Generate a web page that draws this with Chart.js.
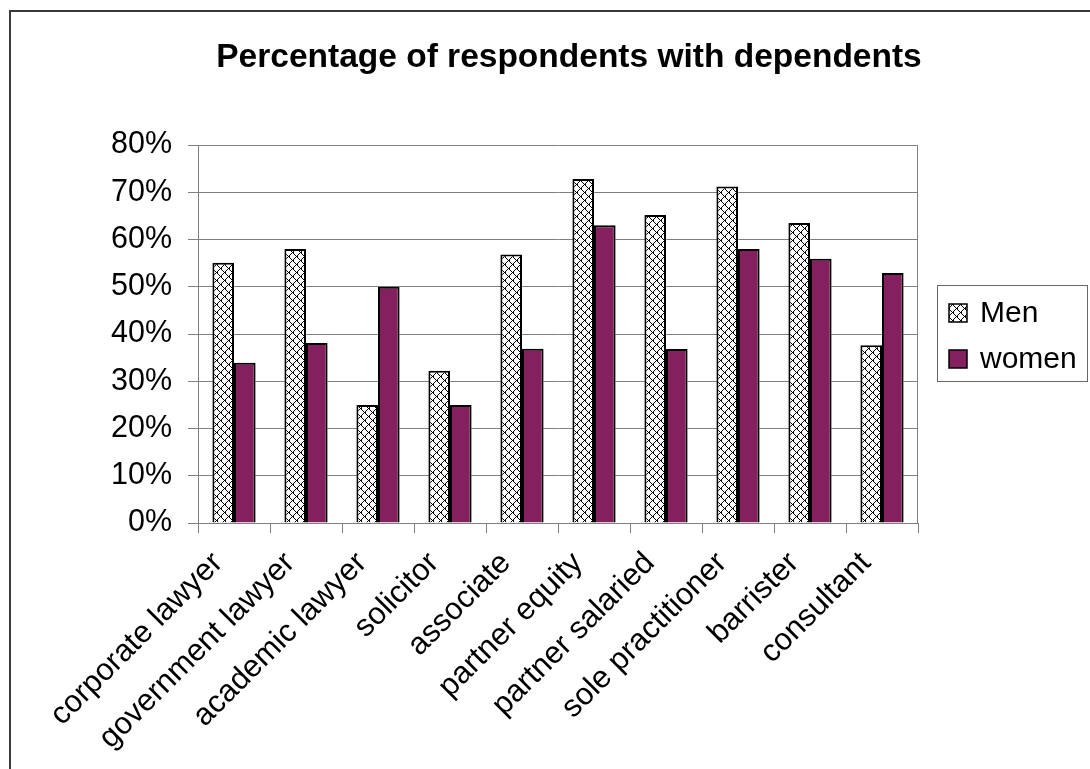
<!DOCTYPE html>
<html>
<head>
<meta charset="utf-8">
<script src="https://cdn.jsdelivr.net/npm/chart.js@4/dist/chart.umd.min.js"></script>
<style>
  html, body { margin: 0; padding: 0; background: #fff; }
  #wrap { width: 1090px; height: 769px; position: relative; }
</style>
</head>
<body>
<div id="wrap"><canvas id="chart" width="1090" height="769"></canvas></div>
<script>
// Share of respondents with dependents, by role and sex
const categories = [
  'corporate lawyer', 'government lawyer', 'academic lawyer', 'solicitor',
  'associate', 'partner equity', 'partner salaried', 'sole practitioner',
  'barrister', 'consultant'
];
const menValues   = [55.1, 58.0, 25.0, 32.2, 56.8, 72.8, 65.2, 71.2, 63.5, 37.6];
const womenValues = [33.9, 38.1, 50.0, 25.0, 36.9, 63.0, 36.8, 58.0, 55.9, 52.9];
const seriesNames = ['Men', 'women'];
const yTickValues = [0, 10, 20, 30, 40, 50, 60, 70, 80];
const chartTitle = 'Percentage of respondents with dependents';

const FONT = '"Liberation Sans", Arial, Helvetica, sans-serif';
const GRID = '#808080';

// small diagonal cross-hatch fill
function crossHatch() {
  const n = 8;
  const t = document.createElement('canvas');
  t.width = n; t.height = n;
  const g = t.getContext('2d');
  g.fillStyle = '#fff';
  g.fillRect(0, 0, n, n);
  g.fillStyle = '#000';
  for (let y = 0; y < n; y++) {
    for (let x = 0; x < n; x++) {
      const d1 = ((x - y) % n + n) % n;
      const d2 = (x + y) % n;
      if (d1 === 0 || d2 === 0 || (d1 === 1 && d2 === 1)) g.fillRect(x, y, 1, 1);
    }
  }
  return g.createPattern(t, 'repeat');
}
const hatch = crossHatch();
const plum = '#84205F';

const decor = {
  id: 'decor',
  beforeDraw(chart) {
    const ctx = chart.ctx;
    ctx.save();
    ctx.fillStyle = '#fff';
    ctx.fillRect(0, 0, chart.width, chart.height);
    ctx.restore();
  },
  beforeDatasetsDraw(chart) {
    // right-hand edge of the plot area
    const a = chart.chartArea, ctx = chart.ctx;
    ctx.save();
    ctx.strokeStyle = GRID;
    ctx.lineWidth = 1;
    ctx.beginPath();
    ctx.moveTo(Math.round(a.right) - 0.5, a.top);
    ctx.lineTo(Math.round(a.right) - 0.5, a.bottom);
    ctx.stroke();
    ctx.restore();
  },
  afterDraw(chart) {
    const ctx = chart.ctx;
    ctx.save();
    // outer frame
    ctx.strokeStyle = '#3a3a3a';
    ctx.lineWidth = 2;
    ctx.strokeRect(10, 11, 1200, 900);

    // title
    ctx.fillStyle = '#000';
    ctx.font = 'bold 33.5px ' + FONT;
    ctx.textAlign = 'center';
    ctx.textBaseline = 'alphabetic';
    ctx.fillText(chartTitle, 569, 67);

    // legend
    const lx = 937.5, ly = 285.5, lw = 150, lh = 96;
    ctx.strokeStyle = '#666';
    ctx.lineWidth = 1;
    ctx.strokeRect(lx, ly, lw, lh);
    ctx.font = '30px ' + FONT;
    ctx.textAlign = 'left';
    ctx.textBaseline = 'middle';
    chart.data.datasets.forEach((ds, i) => {
      const cy = 313 + i * 46;
      ctx.fillStyle = ds.backgroundColor;
      ctx.fillRect(949, cy - 9, 18, 18);
      ctx.strokeStyle = '#000';
      ctx.lineWidth = 1.5;
      ctx.strokeRect(949, cy - 9, 18, 18);
      ctx.fillStyle = '#000';
      ctx.fillText(ds.label, 980, cy + 1);
    });
    ctx.restore();
  }
};

new Chart(document.getElementById('chart'), {
  type: 'bar',
  data: {
    labels: categories,
    datasets: [
      { label: seriesNames[0], data: menValues, backgroundColor: hatch,
        borderColor: '#000', borderWidth: 2 },
      { label: seriesNames[1], data: womenValues, backgroundColor: plum,
        borderColor: '#000', borderWidth: 2 }
    ]
  },
  options: {
    responsive: false,
    animation: false,
    devicePixelRatio: 1,
    layout: { padding: { top: 145, right: 172, left: 0, bottom: 0 } },
    datasets: { bar: { categoryPercentage: 0.6, barPercentage: 1 } },
    plugins: {
      legend: { display: false },
      title: { display: false },
      tooltip: { enabled: false }
    },
    scales: {
      x: {
        afterFit(s) { s.height = 246; },
        grid: { offset: true, drawOnChartArea: false, drawTicks: true, tickLength: 10, color: GRID },
        border: { display: true, color: GRID, width: 1 },
        ticks: {
          autoSkip: false, minRotation: 45, maxRotation: 45,
          color: '#000', padding: 12, labelOffset: -16,
          font: { family: FONT, size: 31 }
        }
      },
      y: {
        min: 0, max: 80,
        afterFit(s) { s.width = 198; },
        afterBuildTicks(s) { s.ticks = yTickValues.map(v => ({ value: v })); },
        grid: { color: GRID, lineWidth: 1, tickLength: 10 },
        border: { display: true, color: GRID, width: 1 },
        ticks: {
          color: '#000', padding: 16,
          font: { family: FONT, size: 30.5 },
          callback: v => v + '%'
        }
      }
    }
  },
  plugins: [decor]
});
</script>
</body>
</html>
